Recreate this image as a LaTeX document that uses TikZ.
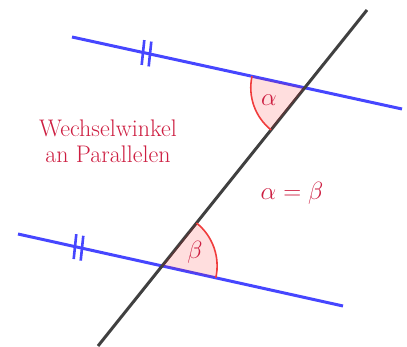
\documentclass[tikz,border=0pt]{standalone}
\usepackage{fontspec}
\usetikzlibrary{calc}
\definecolor{linblue}{RGB}{70,70,255}
\definecolor{trans}{RGB}{64,64,64}
\definecolor{arcred}{RGB}{240,60,60}
\definecolor{txtred}{RGB}{205,30,65}
\tikzset{
  parline/.style={draw=linblue, line width=3pt},
  transline/.style={draw=trans, line width=3pt},
  tickmark/.style={draw=linblue, line width=2.6pt},
  sector/.style={fill=red, fill opacity=0.13},
  arcline/.style={draw=arcred, line width=1.6pt},
  label/.style={text=txtred, inner sep=0pt, font=\fontsize{24}{26}\selectfont}
}
\begin{document}
\begin{tikzpicture}[x=1pt,y=1pt]
\useasboundingbox (0,0) rectangle (407,346);
% end points
\coordinate (T1) at (72,309);
\coordinate (T2) at (402,237);
\coordinate (B1) at (18,112);
\coordinate (B2) at (343,40);
\coordinate (L1) at (367,336);
\coordinate (L2) at (98,0);
\coordinate (P) at (intersection of T1--T2 and L1--L2);
\coordinate (Q) at (intersection of B1--B2 and L1--L2);
% lines
\draw[parline] (T1) -- (T2);
\draw[parline] (B1) -- (B2);
\draw[transline] (L1) -- (L2);
% tick marks
\coordinate (t1) at (143,293.5);
\coordinate (t2) at (150,292);
\coordinate (b1) at (75,99.4);
\coordinate (b2) at (82,97.8);
\foreach \c in {t1,t2,b1,b2}
  \draw[tickmark] ($(\c)+(84:12.5)$) -- ($(\c)+(264:12.5)$);
% alpha sector
\fill[sector] (P) -- ++(167.7:54) arc[start angle=167.7, end angle=231.3, radius=54] -- cycle;
\draw[arcline] (P) ++(167.7:54) arc[start angle=167.7, end angle=231.3, radius=54];
% beta sector
\fill[sector] (Q) -- ++(-12.5:55) arc[start angle=-12.5, end angle=51.3, radius=55] -- cycle;
\draw[arcline] (Q) ++(-12.5:55) arc[start angle=-12.5, end angle=51.3, radius=55];
% labels
\node[label] (alpha) at (269,246) {$\alpha$};
\node[label] (beta) at (195,94) {$\beta$};
\node[label] (eq) at (292,153) {$\alpha=\beta$};
\node[label, align=center, anchor=base] (title) at (108,183) {Wechselwinkel\\an Parallelen};
\end{tikzpicture}
\end{document}
